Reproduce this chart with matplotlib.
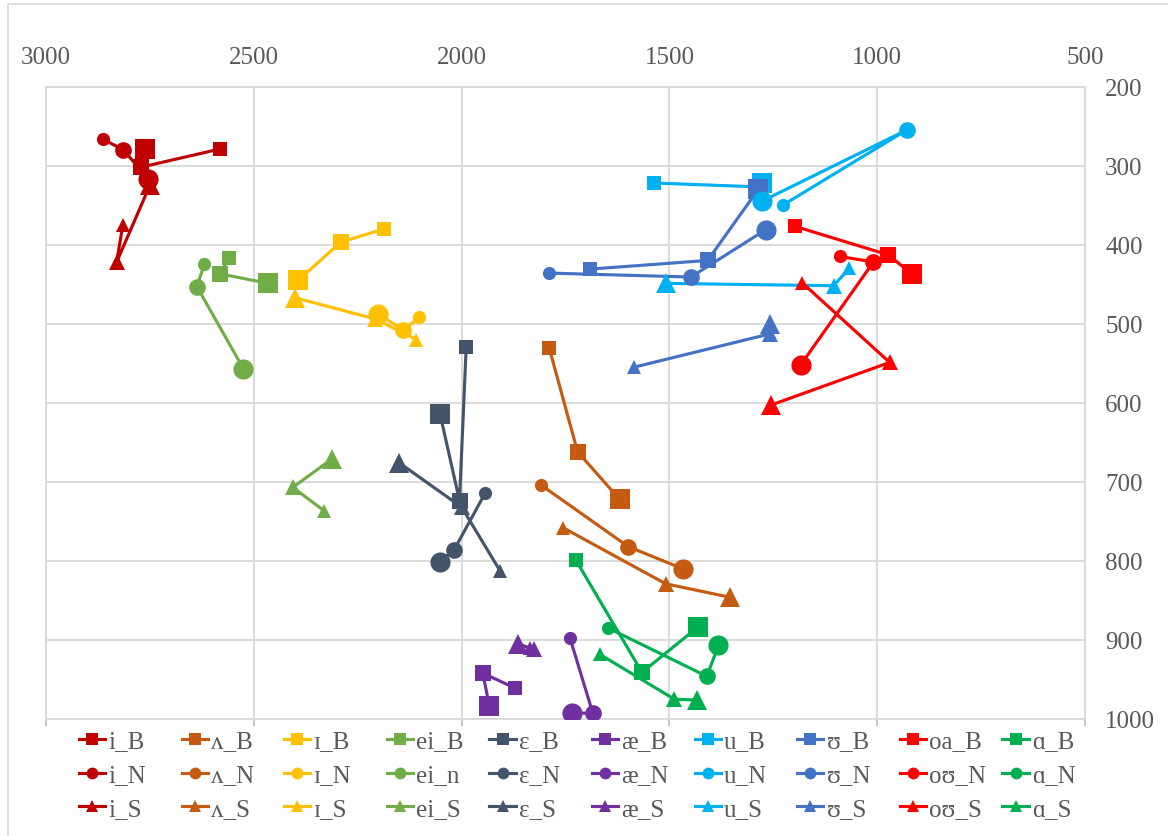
import matplotlib
matplotlib.use("Agg")
import matplotlib.pyplot as plt
from matplotlib.lines import Line2D
from matplotlib.patches import Rectangle

plt.rcParams['font.family'] = ['Liberation Serif', 'DejaVu Serif']

# ---------------- data ----------------
labels_B = ['i_B', 'ʌ_B', 'ɪ_B', 'ei_B', 'ɛ_B', 'æ_B', 'u_B', 'ʊ_B', 'oa_B', 'ɑ_B']
labels_N = ['i_N', 'ʌ_N', 'ɪ_N', 'ei_n', 'ɛ_N', 'æ_N', 'u_N', 'ʊ_N', 'oʊ_N', 'ɑ_N']
labels_S = ['i_S', 'ʌ_S', 'ɪ_S', 'ei_S', 'ɛ_S', 'æ_S', 'u_S', 'ʊ_S', 'oʊ_S', 'ɑ_S']

colors = ['#C00000', '#C55A11', '#FFC000', '#70AD47', '#44546A',
          '#7030A0', '#00B0F0', '#4472C4', '#FF0000', '#00B050']

F2_B = [[2581, 2771, 2762], [1789, 1721, 1620], [2186, 2291, 2393], [2560, 2581, 2465],
        [1989, 2005, 2052], [1871, 1949, 1933], [1538, 1286, 1277], [1692, 1408, 1286],
        [1197, 973, 917], [1725, 1566, 1432]]
F1_B = [[279, 302, 279], [531, 662, 722], [380, 397, 445], [417, 437, 449],
        [530, 724, 614], [961, 942, 984], [322, 327, 322], [431, 420, 330],
        [377, 413, 437], [799, 941, 884]]

F2_N = [[2862, 2814, 2754], [1809, 1599, 1468], [2102, 2140, 2200], [2619, 2637, 2525],
        [1943, 2018, 2053], [1739, 1684, 1735], [1227, 929, 1277], [1789, 1448, 1268],
        [1089, 1009, 1184], [1647, 1410, 1382]]
F1_N = [[267, 280, 317], [704, 782, 810], [492, 508, 488], [425, 453, 557],
        [714, 786, 802], [898, 993, 992], [350, 255, 345], [436, 441, 381],
        [415, 422, 552], [885, 946, 907]]

F2_S = [[2815, 2830, 2750], [1756, 1509, 1354], [2109, 2208, 2402], [2330, 2406, 2312],
        [1907, 2000, 2150], [1835, 1826, 1864], [1067, 1105, 1509], [1585, 1259, 1259],
        [1181, 970, 1256], [1668, 1488, 1434]]
F1_S = [[375, 422, 325], [758, 829, 846], [520, 494, 467], [737, 707, 671],
        [813, 732, 676], [910, 912, 905], [430, 452, 449], [555, 513, 500],
        [448, 549, 603], [918, 975, 976]]

x_ticks = [3000, 2500, 2000, 1500, 1000, 500]
y_ticks = [200, 300, 400, 500, 600, 700, 800, 900, 1000]

# ---------------- style ----------------
W, H = 1168, 837
marker_sizes = [9.5, 12, 14.5]   # small, medium, large point in each series
TXT = '#595959'
GRID = '#D9D9D9'
FS = 18

fig = plt.figure(figsize=(W / 100, H / 100), dpi=100)
L, R, T, B = 46, 1085, 87.5, 720
ax = fig.add_axes([L / W, 1 - B / H, (R - L) / W, (B - T) / H])

ax.set_xlim(3000, 500)
ax.set_ylim(1000, 200)
ax.set_xticks(x_ticks)
ax.set_yticks(y_ticks)
ax.grid(True, color=GRID, lw=1.3)
ax.set_axisbelow(True)
for s in ax.spines.values():
    s.set_color(GRID)
    s.set_linewidth(1.3)

ax.tick_params(axis='x', top=False, bottom=True, labeltop=True, labelbottom=False,
               length=5, width=1.3, color='#BFBFBF', labelsize=FS, labelcolor=TXT, pad=8)
ax.tick_params(axis='y', left=False, right=False, labelleft=False, labelright=True,
               labelsize=FS, labelcolor=TXT, pad=11)

groups = [(F2_B, F1_B, 's', labels_B), (F2_N, F1_N, 'o', labels_N), (F2_S, F1_S, '^', labels_S)]
handles = {}
for f2s, f1s, mk, labs in groups:
    for k in range(len(colors)):
        c = colors[k]
        ax.plot(f2s[k], f1s[k], color=c, lw=2.25, zorder=2, solid_capstyle='round')
        for j in range(3):
            ax.plot([f2s[k][j]], [f1s[k][j]], linestyle='none', marker=mk,
                    markersize=marker_sizes[j], color=c, markeredgewidth=0, zorder=3)
        handles[labs[k]] = Line2D([], [], color=c, lw=2.25, marker=mk, markersize=8.5,
                                  markeredgewidth=0)

# legend: 10 columns x 3 rows, uniform column width like the original
col_x0, col_dx = 79, 102.6
for k in range(len(colors)):
    labs = [labels_B[k], labels_N[k], labels_S[k]]
    fig.legend(handles=[handles[l] for l in labs], labels=labs,
               loc='upper left', bbox_to_anchor=((col_x0 + k * col_dx) / W, 1 - 731 / H),
               frameon=False, fontsize=FS, labelcolor=TXT, handlelength=1.05,
               handletextpad=0.12, labelspacing=0.45, borderpad=0, borderaxespad=0)

# outer chart border
fig.patches.append(Rectangle((8 / W, -0.1), 1.2, 1 - 5 / H + 0.1, transform=fig.transFigure,
                             fill=False, edgecolor=GRID, lw=1.2))

fig.savefig('out.png', dpi=100)
